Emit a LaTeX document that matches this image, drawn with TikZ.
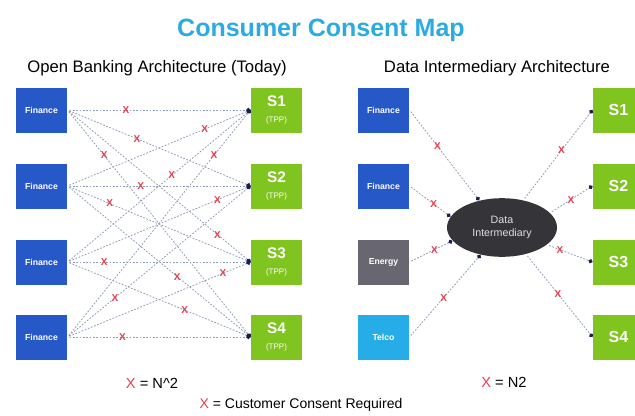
\documentclass[tikz,border=0pt]{standalone}
\usepackage{fontspec}
\setmainfont{Liberation Sans}
\usetikzlibrary{arrows.meta,shapes.geometric}

\definecolor{finblue}{RGB}{38,88,200}
\definecolor{tppgreen}{RGB}{128,196,32}
\definecolor{energygray}{RGB}{104,102,112}
\definecolor{telcoblue}{RGB}{38,172,230}
\definecolor{hubgray}{RGB}{52,52,57}
\definecolor{titleblue}{RGB}{44,170,226}
\definecolor{xred}{RGB}{232,62,78}
\definecolor{linkgray}{RGB}{145,155,182}
\definecolor{tipnavy}{RGB}{22,32,78}

\tikzset{every picture/.style={line width=0.75pt}}
\tikzset{
  box/.style={rectangle, inner sep=0pt, minimum width=38.25pt, minimum height=33.75pt, text=white},
  fin/.style={box, fill=finblue, font=\bfseries\fontsize{6.5}{7}\selectfont},
  tpp/.style={box, fill=tppgreen, align=center, font=\bfseries\fontsize{11.5}{11.5}\selectfont},
  link/.style={draw=linkgray, line width=0.6pt, dash pattern=on 1.3pt off 1.2pt, shorten <=1.5pt},
  linkdot/.style={link, -{Circle[length=3.2pt, color=tipnavy, fill=tipnavy]}},
  xmark/.style={text=xred, inner sep=0pt, font=\bfseries\fontsize{7.5}{8}\selectfont},
  heading/.style={font=\fontsize{12.5}{14}\selectfont},
}

\begin{document}
\begin{tikzpicture}[x=0.75pt,y=0.75pt,yscale=-1,xscale=1]
	\useasboundingbox (0,0) rectangle (635,415);
	\clip (0,0) rectangle (635,415);

	% Title and headings
	\node[font=\bfseries\fontsize{18.75}{20}\selectfont, text=titleblue] (title) at (321,30) {Consumer Consent Map};
	\node[heading] (obhead) at (157,68) {Open Banking Architecture (Today)};
	\node[heading] (dihead) at (497,68) {Data Intermediary Architecture};

	%Shape: Rectangle -- banks, left
	\node[fin] (f1) at (41.5,110) {Finance};
	\node[fin] (f2) at (41.5,186) {Finance};
	\node[fin] (f3) at (41.5,262) {Finance};
	\node[fin] (f4) at (41.5,337) {Finance};
	%Shape: Rectangle -- third parties, left
	\node[tpp] (s1) at (276.5,110) {S1\\[1pt]{\mdseries\fontsize{6}{6}\selectfont (TPP)}};
	\node[tpp] (s2) at (276.5,186) {S2\\[1pt]{\mdseries\fontsize{6}{6}\selectfont (TPP)}};
	\node[tpp] (s3) at (276.5,262) {S3\\[1pt]{\mdseries\fontsize{6}{6}\selectfont (TPP)}};
	\node[tpp] (s4) at (276.5,337) {S4\\[1pt]{\mdseries\fontsize{6}{6}\selectfont (TPP)}};

	%Straight Lines -- every bank to every third party
	\draw[linkdot] (f1.east) -- node[pos=0.32,xmark]{X} (s1.west);
	\draw[linkdot] (f1.east) -- node[pos=0.38,xmark]{X} (s2.west);
	\draw[linkdot] (f1.east) -- node[pos=0.82,xmark]{X} (s3.west);
	\draw[linkdot] (f1.east) -- node[pos=0.20,xmark]{X} (s4.west);
	\draw[linkdot] (f2.east) -- node[pos=0.75,xmark]{X} (s1.west);
	\draw[linkdot] (f2.east) -- node[pos=0.40,xmark]{X} (s2.west);
	\draw[linkdot] (f2.east) -- node[pos=0.23,xmark]{X} (s3.west);
	\draw[linkdot] (f2.east) -- node[pos=0.60,xmark]{X} (s4.west);
	\draw[linkdot] (f3.east) -- node[pos=0.57,xmark]{X} (s1.west);
	\draw[linkdot] (f3.east) -- node[pos=0.82,xmark]{X} (s2.west);
	\draw[linkdot] (f3.east) -- node[pos=0.20,xmark]{X} (s3.west);
	\draw[linkdot] (f3.east) -- node[pos=0.64,xmark]{X} (s4.west);
	\draw[linkdot] (f4.east) -- node[pos=0.80,xmark]{X} (s1.west);
	\draw[linkdot] (f4.east) -- node[pos=0.26,xmark]{X} (s2.west);
	\draw[linkdot] (f4.east) -- node[pos=0.85,xmark]{X} (s3.west);
	\draw[linkdot] (f4.east) -- node[pos=0.30,xmark]{X} (s4.west);

	%Shape: Rectangle -- data sources, right
	\node[fin] (rf1) at (383.5,110) {Finance};
	\node[fin] (rf2) at (383.5,186) {Finance};
	\node[fin, fill=energygray] (ren) at (383.5,262) {Energy};
	\node[fin, fill=telcoblue] (rtc) at (383.5,337) {Telco};
	%Shape: Rectangle -- third parties, right (cut by the frame)
	\node[tpp, font=\bfseries\fontsize{12}{12}\selectfont] (rs1) at (618.5,110) {S1};
	\node[tpp, font=\bfseries\fontsize{12}{12}\selectfont] (rs2) at (618.5,186) {S2};
	\node[tpp, font=\bfseries\fontsize{12}{12}\selectfont] (rs3) at (618.5,262) {S3};
	\node[tpp, font=\bfseries\fontsize{12}{12}\selectfont] (rs4) at (618.5,337) {S4};

	%Shape: Ellipse
	\node[ellipse, fill=hubgray, inner sep=0pt, minimum width=82.5pt, minimum height=44pt, align=center,
	      text=white!88!black, font=\fontsize{8}{9.75}\selectfont] (di) at (502,227.5) {Data\\Intermediary};

	%Straight Lines -- sources into the intermediary
	\draw[linkdot] (rf1.east) -- node[pos=0.40,xmark]{X} (di.130);
	\draw[linkdot] (rf2.east) -- node[pos=0.59,xmark]{X} (di.168);
	\draw[linkdot] (ren.east) -- node[pos=0.58,xmark]{X} (di.195);
	\draw[linkdot] (rtc.east) -- node[pos=0.48,xmark]{X} (di.232);
	%Straight Lines -- intermediary out to third parties
	\draw[linkdot] (di.52) -- node[pos=0.55,xmark]{X} (rs1.west);
	\draw[linkdot] (di.17) -- node[pos=0.49,xmark]{X} (rs2.west);
	\draw[linkdot] (di.339) -- node[pos=0.28,xmark]{X} (rs3.west);
	\draw[linkdot] (di.312) -- node[pos=0.48,xmark]{X} (rs4.west);

	% Text Node
	\node[font=\fontsize{11}{12}\selectfont] (nsq) at (152,383) {\textcolor{xred}{X} = N\^{}2};
	% Text Node
	\node[font=\fontsize{11}{12}\selectfont] (nlin) at (504,382) {\textcolor{xred}{X} = N2};
	% Text Node
	\node[font=\fontsize{10.5}{12}\selectfont] (key) at (301,405) {\textcolor{xred}{X} = Customer Consent Required};

\end{tikzpicture}
\end{document}
